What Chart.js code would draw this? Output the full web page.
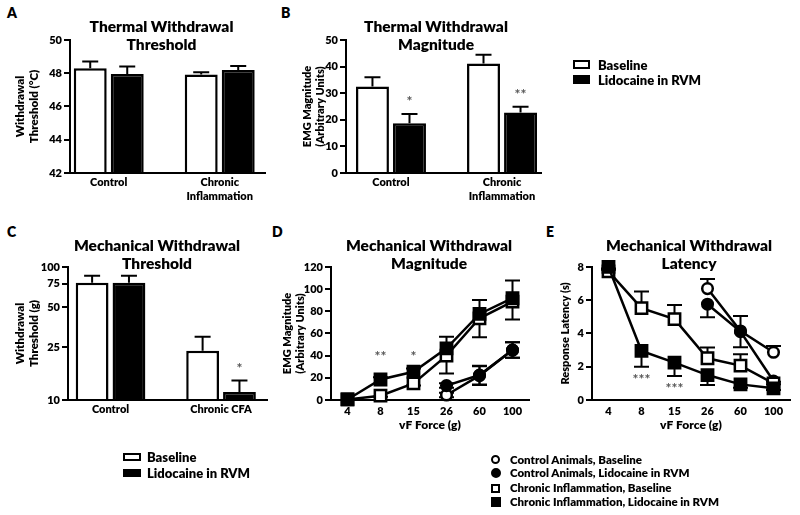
<!DOCTYPE html>
<html>
<head>
<meta charset="utf-8">
<script src="https://cdn.jsdelivr.net/npm/chart.js"></script>
<style>
html,body{margin:0;padding:0;background:#fff;width:800px;height:515px;overflow:hidden;}
body{position:relative;font-family:Lato,"Liberation Sans",sans-serif;font-weight:800;color:#000;}
canvas{position:absolute;}
.letter{position:absolute;font-size:14px;font-weight:800;line-height:14px;}
.leg{position:absolute;font-weight:800;white-space:nowrap;height:14px;line-height:14px;}
.sw{position:absolute;box-sizing:border-box;border:2px solid #000;}
</style>
</head>
<body>
<div class="letter" style="left:7px;top:6px">A</div>
<div class="letter" style="left:281px;top:6px">B</div>
<div class="letter" style="left:7px;top:225px">C</div>
<div class="letter" style="left:272px;top:225px">D</div>
<div class="letter" style="left:546px;top:225px">E</div>

<canvas id="cB" width="332" height="215" style="left:270px;top:0px;width:332px;height:215px"></canvas>
<canvas id="cA" width="323" height="215" style="left:0px;top:0px;width:323px;height:215px"></canvas>
<canvas id="cE" width="338" height="215" style="left:520px;top:220px;width:338px;height:215px"></canvas>
<canvas id="cD" width="338" height="215" style="left:260px;top:220px;width:338px;height:215px"></canvas>
<canvas id="cC" width="314" height="215" style="left:0px;top:220px;width:314px;height:215px"></canvas>

<div id="legTop"></div>
<div id="legBL"></div>
<div id="legBR"></div>

<script>
// ---------------- data ----------------
const groupsAB = ['Control', ['Chronic', 'Inflammation']];
const groupsC = ['Control', 'Chronic CFA'];
const barSeries = ['Baseline', 'Lidocaine in RVM'];

// A: Thermal Withdrawal Threshold (°C)
const thermalThresholdBaseline = [48.3, 47.93];
const thermalThresholdBaselineErr = [0.4, 0.13];
const thermalThresholdLidocaine = [47.95, 48.2];
const thermalThresholdLidocaineErr = [0.45, 0.23];
const thermalThresholdTicks = [42, 44, 46, 48, 50];

// B: Thermal Withdrawal Magnitude
const thermalMagnitudeBaseline = [32.5, 41.2];
const thermalMagnitudeBaselineErr = [3.5, 3.2];
const thermalMagnitudeLidocaine = [18.7, 22.7];
const thermalMagnitudeLidocaineErr = [3.5, 2.2];
const thermalMagnitudeSig = ['*', '**'];
const thermalMagnitudeTicks = [0, 10, 20, 30, 40, 50];

// C: Mechanical Withdrawal Threshold (g), log axis
const mechThresholdBaseline = [76, 23.5];
const mechThresholdBaselineErr = [10, 6.4];
const mechThresholdLidocaine = [76, 11.5];
const mechThresholdLidocaineErr = [10, 2.5];
const mechThresholdSig = ['', '*'];
const mechThresholdTicks = [10, 25, 50, 75, 100];

// D / E: vF force categories
const vfForces = ['4', '8', '15', '26', '60', '100'];
const lineSeries = ['Control Animals, Baseline', 'Control Animals, Lidocaine in RVM',
                    'Chronic Inflammation, Baseline', 'Chronic Inflammation, Lidocaine in RVM'];

// D: Mechanical Withdrawal Magnitude
const magCtrlBaseline = [null, null, null, 4.5, 22, 45];
const magCtrlBaselineErr = [null, null, null, 2, 8.5, 7];
const magCtrlLidocaine = [null, null, null, 13, 22.5, 45];
const magCtrlLidocaineErr = [null, null, null, 2, 8.5, 7];
const magChronicBaseline = [0.5, 3.9, 15, 40, 73.7, 88.7];
const magChronicBaselineErr = [0, 1, 2, 16, 17, 16];
const magChronicLidocaine = [0.5, 18.5, 25.5, 46.6, 77.6, 91.8];
const magChronicLidocaineErr = [0, 2, 3, 10.5, 12.5, 16];
const magChronicLidocaineSig = ['', '**', '*', '', '', ''];
const magTicks = [0, 20, 40, 60, 80, 100, 120];

// E: Mechanical Withdrawal Latency (s)
const latCtrlBaseline = [null, null, null, 6.7, 4.15, 2.87];
const latCtrlBaselineErr = [null, null, null, 0.57, 0.9, 0.38];
const latCtrlLidocaine = [null, null, null, 5.76, 4.11, 1.14];
const latCtrlLidocaineErr = [null, null, null, 0.78, 0.94, 0.2];
const latChronicBaseline = [7.73, 5.52, 4.86, 2.51, 2.07, 1.0];
const latChronicBaselineErr = [0.1, 1.0, 0.86, 0.64, 0.68, 0.1];
const latChronicLidocaine = [8.0, 2.95, 2.25, 1.5, 0.94, 0.7];
const latChronicLidocaineErr = [0.1, 0.95, 0.8, 0.6, 0.2, 0.1];
const latChronicLidocaineSig = ['', '***', '***', '', '', ''];
const latTicks = [0, 2, 4, 6, 8];

// ---------------- helpers ----------------
const W = 800; // heavy weight used throughout
Chart.defaults.font.family = 'Lato';
Chart.defaults.font.weight = W;
Chart.defaults.color = '#000';
Chart.defaults.animation = false;

const valOf = d => (d !== null && typeof d === 'object') ? d.y : d;

const errorBars = {
  id: 'errorBars',
  beforeDatasetsDraw(chart) {
    const ctx = chart.ctx;
    chart.data.datasets.forEach((ds, i) => {
      if (!ds.errors) return;
      const meta = chart.getDatasetMeta(i);
      const ys = chart.scales[meta.yAxisID];
      const cap = ds.capWidth || 16;
      ctx.save();
      ctx.strokeStyle = '#000';
      ctx.lineWidth = 2;
      meta.data.forEach((el, j) => {
        const v = valOf(ds.data[j]);
        const e = ds.errors[j];
        if (v === null || v === undefined || !e) return;
        const ends = [];
        if (ds.errDir === 'up' || ds.errDir === 'both') ends.push(ys.getPixelForValue(v + e));
        if (ds.errDir === 'down' || ds.errDir === 'both') ends.push(ys.getPixelForValue(v - e));
        const y0 = ys.getPixelForValue(v);
        ends.forEach(ye => {
          ctx.beginPath();
          ctx.moveTo(el.x, y0); ctx.lineTo(el.x, ye);
          ctx.moveTo(el.x - cap / 2, ye); ctx.lineTo(el.x + cap / 2, ye);
          ctx.stroke();
        });
      });
      ctx.restore();
    });
  }
};

const sigMarks = {
  id: 'sigMarks',
  afterDatasetsDraw(chart) {
    const ctx = chart.ctx;
    chart.data.datasets.forEach((ds, i) => {
      if (!ds.sig) return;
      const meta = chart.getDatasetMeta(i);
      const ys = chart.scales[meta.yAxisID];
      ctx.save();
      ctx.font = 'bold 14px Lato';
      ctx.fillStyle = '#555';
      ctx.textAlign = 'center';
      ctx.textBaseline = 'middle';
      meta.data.forEach((el, j) => {
        const s = ds.sig[j];
        if (!s) return;
        const v = valOf(ds.data[j]);
        const e = (ds.errors && ds.errors[j]) || 0;
        let y;
        if (ds.sigAt === 'above') y = ys.getPixelForValue(v + e) - 12;
        else if (ds.sigAt === 'below') y = ys.getPixelForValue(v - e) + 13;
        else y = ys.getPixelForValue(ds.sigAt) + 3;
        ctx.fillText(s, el.x, y);
      });
      ctx.restore();
    });
  }
};

function yAxis(o) {
  return Object.assign({
    position: 'left',
    border: {display: true, color: '#000', width: 2},
    grid: {drawOnChartArea: false, drawTicks: true, tickLength: 6, color: '#000', lineWidth: 2},
    ticks: {font: {size: 11, weight: W}, padding: 2, color: '#000', callback: v => String(v)},
    title: {display: true, text: o.title, color: '#000',
            font: {size: o.titleSize || 11, weight: W, lineHeight: 1.15}, padding: {top: o.titlePad, bottom: 0}},
    afterFit: s => { s.width = o.width; },
    afterBuildTicks: s => { s.ticks = o.ticks.map(v => ({value: v})); }
  }, o.extra);
}

function spacer(w) {
  return {
    type: 'linear', position: 'right', display: true,
    grid: {display: false}, border: {display: false}, ticks: {display: false},
    afterFit: s => { s.width = w; }
  };
}

function titleOpts(text, top, bottom) {
  return {display: true, text: text, color: '#000', fullSize: true,
          font: {size: 15.5, weight: W, lineHeight: 1.16}, padding: {top: top, bottom: bottom}};
}

function barX(cats, min, max, h) {
  return {
    type: 'linear', min: min, max: max, offset: false,
    border: {display: true, color: '#000', width: 2},
    grid: {display: false, drawTicks: false, offset: false},
    ticks: {font: {size: 11, weight: W, lineHeight: 1.25}, padding: 3, autoSkip: false, maxRotation: 0,
            color: '#000', callback: v => cats[v]},
    afterBuildTicks: s => { s.ticks = cats.map((_, i) => ({value: i})); },
    afterFit: s => { s.height = h; }
  };
}

function lineX(h) {
  return {
    type: 'category', offset: true,
    border: {display: true, color: '#000', width: 2},
    grid: {display: false, drawTicks: false},
    ticks: {font: {size: 11, weight: W}, padding: 5, color: '#000', autoSkip: false, maxRotation: 0},
    title: {display: true, text: 'vF Force (g)', color: '#000', font: {size: 12, weight: W, lineHeight: 1}, padding: {top: 0, bottom: 4}},
    afterFit: s => { s.height = h; }
  };
}

const xy = arr => arr.map((v, i) => ({x: i, y: v}));

function barDs(label, values, errs, fill, extra) {
  return Object.assign({
    label: label, data: xy(values), errors: errs, errDir: 'up',
    backgroundColor: fill, borderColor: '#000', borderWidth: 2.5,
    categoryPercentage: 0.667, barPercentage: 0.89
  }, extra || {});
}

const commonPlugins = {legend: {display: false}, tooltip: {enabled: false}};

// ---------------- A ----------------
new Chart(document.getElementById('cA'), {
  type: 'bar',
  data: {datasets: [
    barDs(barSeries[0], thermalThresholdBaseline, thermalThresholdBaselineErr, '#fff', {base: 42}),
    barDs(barSeries[1], thermalThresholdLidocaine, thermalThresholdLidocaineErr, '#000', {base: 42})
  ]},
  options: {
    responsive: false, devicePixelRatio: 1,
    plugins: Object.assign({title: titleOpts(['Thermal Withdrawal', 'Threshold'], 18, -14)}, commonPlugins),
    scales: {
      x: barX(groupsAB, -0.349, 1.408, 42),
      y: yAxis({title: ['Withdrawal', 'Threshold (°C)'], titleSize: 11.5, titlePad: 14, width: 70, ticks: thermalThresholdTicks,
                extra: {type: 'linear', min: 42, max: 50}}),
      yR: spacer(58)
    }
  },
  plugins: [errorBars, sigMarks]
});

// ---------------- B ----------------
new Chart(document.getElementById('cB'), {
  type: 'bar',
  data: {datasets: [
    barDs(barSeries[0], thermalMagnitudeBaseline, thermalMagnitudeBaselineErr, '#fff'),
    barDs(barSeries[1], thermalMagnitudeLidocaine, thermalMagnitudeLidocaineErr, '#000',
          {sig: thermalMagnitudeSig, sigAt: 'above'})
  ]},
  options: {
    responsive: false, devicePixelRatio: 1,
    plugins: Object.assign({title: titleOpts(['Thermal Withdrawal', 'Magnitude'], 18, -14)}, commonPlugins),
    scales: {
      x: barX(groupsAB, -0.405, 1.351, 42),
      y: yAxis({title: ['EMG Magnitude', '(Arbitrary Units)'], titlePad: 31, width: 76, ticks: thermalMagnitudeTicks,
                extra: {type: 'linear', min: 0, max: 50}}),
      yR: spacer(61)
    }
  },
  plugins: [errorBars, sigMarks]
});

// ---------------- C ----------------
new Chart(document.getElementById('cC'), {
  type: 'bar',
  data: {datasets: [
    barDs(barSeries[0], mechThresholdBaseline, mechThresholdBaselineErr, '#fff', {base: 10}),
    barDs(barSeries[1], mechThresholdLidocaine, mechThresholdLidocaineErr, '#000',
          {base: 10, sig: mechThresholdSig, sigAt: 'above'})
  ]},
  options: {
    responsive: false, devicePixelRatio: 1,
    plugins: Object.assign({title: titleOpts(['Mechanical Withdrawal', 'Threshold'], 17, -6)}, commonPlugins),
    scales: {
      x: barX(groupsC, -0.385, 1.416, 35),
      y: yAxis({title: ['Withdrawal', 'Threshold (g)'], titleSize: 11.5, titlePad: 14, width: 68, ticks: mechThresholdTicks,
                extra: {type: 'logarithmic', min: 10, max: 100}}),
      yR: spacer(47)
    }
  },
  plugins: [errorBars, sigMarks]
});

// ---------------- line helpers ----------------
// later series are drawn on top (lower "order" value is drawn last)
function lineDs(label, values, errs, dir, style, filled, order, extra) {
  return Object.assign({
    label: label, data: values, errors: errs, errDir: dir, capWidth: 15, order: order,
    borderColor: '#000', borderWidth: 2.5, tension: 0, spanGaps: false, clip: false,
    pointStyle: style, pointRadius: style === 'rect' ? 8 : 5.3, pointBorderWidth: 2.5,
    pointBackgroundColor: filled ? '#000' : '#fff', pointBorderColor: '#000'
  }, extra || {});
}

// ---------------- D ----------------
new Chart(document.getElementById('cD'), {
  type: 'line',
  data: {labels: vfForces, datasets: [
    lineDs(lineSeries[0], magCtrlBaseline, magCtrlBaselineErr, 'both', 'circle', false, 3),
    lineDs(lineSeries[1], magCtrlLidocaine, magCtrlLidocaineErr, 'both', 'circle', true, 2),
    lineDs(lineSeries[2], magChronicBaseline, magChronicBaselineErr, 'down', 'rect', false, 1),
    lineDs(lineSeries[3], magChronicLidocaine, magChronicLidocaineErr, 'up', 'rect', true, 0,
           {sig: magChronicLidocaineSig, sigAt: 42})
  ]},
  options: {
    responsive: false, devicePixelRatio: 1,
    plugins: Object.assign({title: titleOpts(['Mechanical Withdrawal', 'Magnitude'], 17, -6)}, commonPlugins),
    scales: {
      x: lineX(35),
      y: yAxis({title: ['EMG Magnitude', '(Arbitrary Units)'], titlePad: 21.5, width: 71, ticks: magTicks,
                extra: {type: 'linear', min: 0, max: 120}}),
      yR: spacer(69)
    }
  },
  plugins: [errorBars, sigMarks]
});

// ---------------- E ----------------
new Chart(document.getElementById('cE'), {
  type: 'line',
  data: {labels: vfForces, datasets: [
    lineDs(lineSeries[0], latCtrlBaseline, latCtrlBaselineErr, 'up', 'circle', false, 3),
    lineDs(lineSeries[1], latCtrlLidocaine, latCtrlLidocaineErr, 'down', 'circle', true, 2),
    lineDs(lineSeries[2], latChronicBaseline, latChronicBaselineErr, 'up', 'rect', false, 1),
    lineDs(lineSeries[3], latChronicLidocaine, latChronicLidocaineErr, 'down', 'rect', true, 0,
           {sig: latChronicLidocaineSig, sigAt: 'below'})
  ]},
  options: {
    responsive: false, devicePixelRatio: 1,
    plugins: Object.assign({title: titleOpts(['Mechanical Withdrawal', 'Latency'], 17, -6)}, commonPlugins),
    scales: {
      x: lineX(35),
      y: yAxis({title: 'Response Latency (s)', titlePad: 39, width: 72, ticks: latTicks,
                extra: {type: 'linear', min: 0, max: 8}}),
      yR: spacer(68)
    }
  },
  plugins: [errorBars, sigMarks]
});

// ---------------- legends (HTML text) ----------------
function addSwatch(parent, left, top, w, h, fill, radius, border) {
  const d = document.createElement('div');
  d.className = 'sw';
  d.style.cssText = `left:${left}px;top:${top}px;width:${w}px;height:${h}px;background:${fill};border-radius:${radius};border-width:${border}px`;
  parent.appendChild(d);
}
function addText(parent, left, centerY, text, size) {
  const d = document.createElement('div');
  d.className = 'leg';
  d.style.left = left + 'px';
  d.style.top = (centerY - 7) + 'px';
  d.style.fontSize = size + 'px';
  d.textContent = text;
  parent.appendChild(d);
}
const legTop = document.getElementById('legTop');
addSwatch(legTop, 573, 60, 17, 9, '#fff', '0', 2);
addSwatch(legTop, 573, 75, 17, 9, '#000', '0', 2);
addText(legTop, 598, 64.5, barSeries[0], 13);
addText(legTop, 598, 79.5, barSeries[1], 13);

const legBL = document.getElementById('legBL');
addSwatch(legBL, 123, 453, 18, 8, '#fff', '0', 2);
addSwatch(legBL, 123, 469, 18, 8, '#000', '0', 2);
addText(legBL, 147, 456.5, barSeries[0], 13);
addText(legBL, 147, 472.5, barSeries[1], 13);

const legBR = document.getElementById('legBR');
const brY = [459.5, 472.5, 488, 502.3];
addSwatch(legBR, 491, brY[0] - 4.5, 9, 9, '#fff', '50%', 2.2);
addSwatch(legBR, 490.5, brY[1] - 5, 10, 10, '#000', '50%', 2);
addSwatch(legBR, 491, brY[2] - 4.5, 9, 9, '#fff', '0', 2.2);
addSwatch(legBR, 490.5, brY[3] - 5, 10, 10, '#000', '0', 2);
lineSeries.forEach((s, i) => addText(legBR, 510, brY[i], s, 11.5));
</script>
</body>
</html>
